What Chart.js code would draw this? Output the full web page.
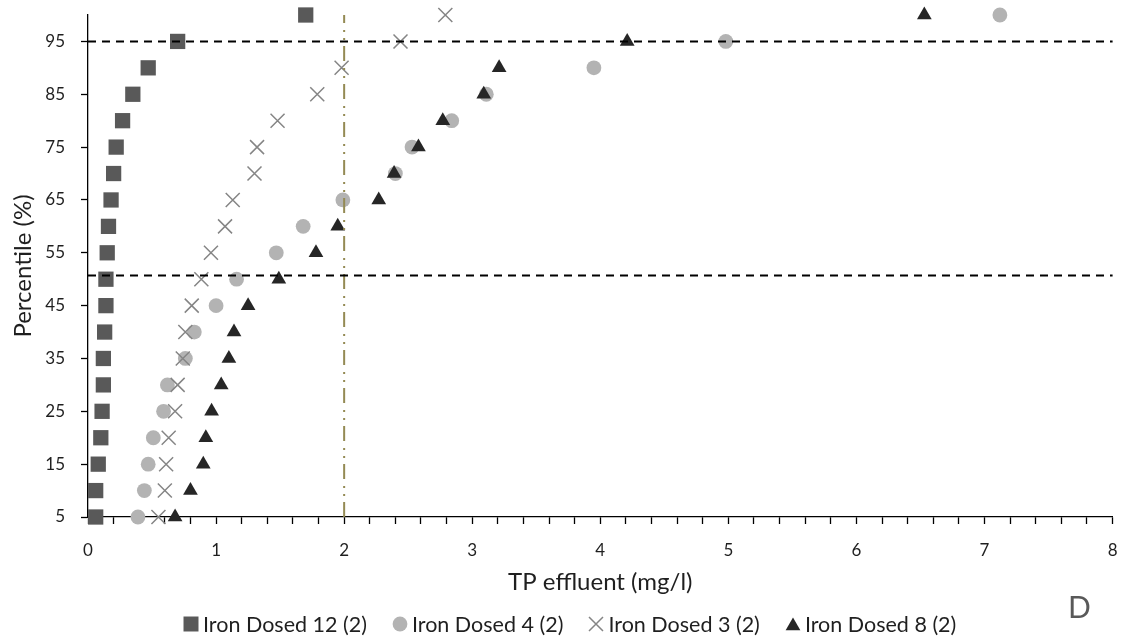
<!DOCTYPE html>
<html>
<head>
<meta charset="utf-8">
<script src="https://cdn.jsdelivr.net/npm/chart.js@4.4.1/dist/chart.umd.min.js"></script>
<style>
  html, body { margin: 0; padding: 0; background: #fff; }
  #wrap { position: relative; width: 1124px; height: 637px; font-family: Lato, sans-serif; }
  #legend-container { position: absolute; left: 183px; top: 611px; }
  #panel-label { position: absolute; left: 1068px; top: 591px; font-size: 30px; line-height: 30px; color: #595959; }
</style>
</head>
<body>
<div id="wrap">
  <canvas id="percentiles" width="1124" height="637"></canvas>
  <div id="legend-container"></div>
  <div id="panel-label">D</div>
</div>
<script>
// percentile rank of each sorted sample
const percentiles = [5, 10, 15, 20, 25, 30, 35, 40, 45, 50, 55, 60, 65, 70, 75, 80, 85, 90, 95, 100];

// TP effluent (mg/l) per works
const ironDosed12 = [0.06, 0.06, 0.08, 0.10, 0.11, 0.12, 0.12, 0.13, 0.14, 0.14, 0.15, 0.16, 0.18, 0.20, 0.22, 0.27, 0.35, 0.47, 0.70, 1.70];
const ironDosed4 = [0.39, 0.44, 0.47, 0.51, 0.59, 0.62, 0.76, 0.83, 1.00, 1.16, 1.47, 1.68, 1.99, 2.40, 2.53, 2.84, 3.11, 3.95, 4.98, 7.12];
const ironDosed3 = [0.55, 0.60, 0.61, 0.63, 0.68, 0.70, 0.74, 0.76, 0.81, 0.885, 0.96, 1.07, 1.13, 1.30, 1.32, 1.48, 1.79, 1.98, 2.44, 2.79];
const ironDosed8 = [0.68, 0.80, 0.90, 0.92, 0.965, 1.04, 1.10, 1.14, 1.25, 1.49, 1.78, 1.95, 2.27, 2.39, 2.58, 2.77, 3.09, 3.21, 4.21, 6.53];

const seriesLabels = ['Iron Dosed 12 (2)', 'Iron Dosed 4 (2)', 'Iron Dosed 3 (2)', 'Iron Dosed 8 (2)'];

// reference lines
const limitPercentiles = [95, 50.7];
const consentTP = 2;
const xRange = [0, 8];
const yRange = [5, 100];

const textColor = '#1f1f1f';
const tickFont = { family: 'Lato, sans-serif', size: 17 };
const titleFont = { family: 'Lato, sans-serif', size: 24 };
const legendFontSize = 21.5;

const toPoints = values => values.map((v, i) => ({x: v, y: percentiles[i]}));

const getOrCreateLegendList = (chart, id) => {
  const legendContainer = document.getElementById(id);
  let listContainer = legendContainer.querySelector('ul');

  if (!listContainer) {
    listContainer = document.createElement('ul');
    listContainer.style.display = 'flex';
    listContainer.style.flexDirection = 'row';
    listContainer.style.margin = 0;
    listContainer.style.padding = 0;
    listContainer.style.listStyle = 'none';
    legendContainer.appendChild(listContainer);
  }

  return listContainer;
};

const htmlLegendPlugin = {
  id: 'htmlLegend',
  afterUpdate(chart, args, options) {
    const ul = getOrCreateLegendList(chart, options.containerID);

    while (ul.firstChild) {
      ul.firstChild.remove();
    }

    chart.data.datasets.filter(ds => ds.inLegend).forEach(ds => {
      const li = document.createElement('li');
      li.style.alignItems = 'center';
      li.style.display = 'flex';
      li.style.flexDirection = 'row';
      li.style.marginRight = '25px';

      // marker, drawn with the same point helper the chart uses
      const box = document.createElement('canvas');
      box.width = 16;
      box.height = 20;
      box.style.marginRight = '4px';
      const ctx = box.getContext('2d');
      ctx.fillStyle = ds.backgroundColor;
      ctx.strokeStyle = ds.borderColor;
      ctx.lineWidth = ds.borderWidth;
      Chart.helpers.drawPoint(ctx, {
        pointStyle: ds.pointStyle,
        radius: Math.min(ds.pointRadius, 10.6),
        rotation: 0,
        borderWidth: ds.borderWidth
      }, 8, ds.pointStyle === 'triangle' ? 12 : 10);

      const textContainer = document.createElement('p');
      textContainer.style.color = textColor;
      textContainer.style.margin = 0;
      textContainer.style.padding = 0;
      textContainer.style.fontSize = legendFontSize + 'px';
      textContainer.style.lineHeight = '26px';
      textContainer.appendChild(document.createTextNode(ds.label));

      li.appendChild(box);
      li.appendChild(textContainer);
      ul.appendChild(li);
    });
  }
};

const series = (label, values, style, fill, stroke, radius, width, order) => ({
  label: label,
  data: toPoints(values),
  pointStyle: style,
  pointRadius: radius,
  pointHoverRadius: radius,
  backgroundColor: fill,
  borderColor: stroke,
  borderWidth: width,
  showLine: false,
  clip: false,
  order: order,
  inLegend: true
});

const refLine = (points, color, dash) => ({
  label: '',
  data: points,
  showLine: true,
  borderColor: color,
  borderWidth: 2,
  borderDash: dash,
  pointRadius: 0,
  pointHoverRadius: 0,
  fill: false,
  clip: false,
  order: 0
});

const data = {
  datasets: [
    series(seriesLabels[0], ironDosed12, 'rect', '#595959', '#595959', 10.8, 0, 4),
    series(seriesLabels[1], ironDosed4, 'circle', '#b3b3b3', '#b3b3b3', 7.4, 0, 3),
    series(seriesLabels[2], ironDosed3, 'crossRot', '#858585', '#858585', 9.9, 1.5, 2),
    series(seriesLabels[3], ironDosed8, 'triangle', '#262626', '#262626', 8.5, 0, 1),
    ...limitPercentiles.map(p => refLine([{x: xRange[0], y: p}, {x: xRange[1], y: p}], '#000000', [8, 6])),
    refLine([{x: consentTP, y: yRange[0]}, {x: consentTP, y: yRange[1]}], '#948a54', [15, 6, 2, 6, 2, 7])
  ]
};

const config = {
  type: 'scatter',
  data: data,
  options: {
    responsive: false,
    animation: false,
    layout: { padding: { left: 0, right: 11, top: 15, bottom: 0 } },
    plugins: {
      htmlLegend: { containerID: 'legend-container' },
      legend: { display: false },
      tooltip: { enabled: false }
    },
    scales: {
      x: {
        type: 'linear',
        min: xRange[0],
        max: xRange[1],
        afterFit: scale => {
          scale.height = 120;
          scale.paddingLeft = 0;
          scale.paddingRight = 0;
        },
        border: { color: '#000000', width: 1.3 },
        grid: { drawOnChartArea: false, tickLength: 7, tickColor: '#000000', tickWidth: 1.3 },
        ticks: {
          stepSize: 0.2,
          autoSkip: false,
          maxRotation: 0,
          padding: 16,
          color: textColor,
          font: tickFont,
          callback: v => Math.abs(v - Math.round(v)) < 1e-6 ? String(Math.round(v)) : ''
        },
        title: {
          display: true,
          text: 'TP effluent (mg/l)',
          color: textColor,
          font: titleFont,
          padding: { top: 0, bottom: 40 }
        }
      },
      y: {
        type: 'linear',
        min: yRange[0],
        max: yRange[1],
        afterFit: scale => {
          scale.width = 88;
          scale.paddingTop = 0;
          scale.paddingBottom = 0;
        },
        border: { color: '#000000', width: 1.3 },
        grid: {
          drawOnChartArea: false,
          tickLength: 7,
          tickWidth: 1.3,
          tickColor: ctx => (ctx.tick && ctx.tick.value % 10 === 5) ? '#000000' : 'rgba(0,0,0,0)'
        },
        ticks: {
          stepSize: 5,
          autoSkip: false,
          padding: 16,
          color: textColor,
          font: tickFont,
          callback: v => v % 10 === 5 ? String(v) : ''
        },
        title: {
          display: true,
          text: 'Percentile (%)',
          color: textColor,
          font: titleFont,
          padding: { top: 9, bottom: 0 }
        }
      }
    }
  },
  plugins: [htmlLegendPlugin]
};

(async function () {
  new Chart(document.getElementById('percentiles'), config);
})();
</script>
</body>
</html>
